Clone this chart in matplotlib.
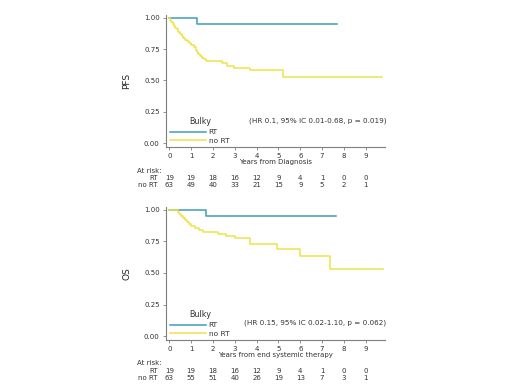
import matplotlib.pyplot as plt
import matplotlib.transforms as mtransforms

# PFS curves (time in years, survival after each step)
pfs_rt_t = [0, 1.28, 7.67]
pfs_rt_s = [1.0, 0.947, 0.947]
pfs_nort_t = [0, 0.05, 0.1, 0.16, 0.22, 0.28, 0.35, 0.42, 0.5, 0.58, 0.65, 0.72, 0.82,
              0.92, 1.0, 1.15, 1.22, 1.28, 1.32, 1.4, 1.5, 1.6, 1.7, 2.4, 2.65, 2.95,
              3.7, 5.2, 9.75]
pfs_nort_s = [1.0, 0.984, 0.968, 0.952, 0.936, 0.92, 0.905, 0.889, 0.873, 0.857, 0.841,
              0.825, 0.81, 0.794, 0.778, 0.762, 0.746, 0.73, 0.714, 0.698, 0.682, 0.667,
              0.651, 0.635, 0.619, 0.603, 0.584, 0.531, 0.531]

# OS curves
os_rt_t = [0, 1.66, 7.65]
os_rt_s = [1.0, 0.947, 0.947]
os_nort_t = [0, 0.38, 0.45, 0.55, 0.62, 0.72, 0.82, 0.9, 1.0, 1.2, 1.35, 1.55, 2.25,
             2.6, 3.0, 3.68, 4.93, 6.0, 7.35, 9.8]
os_nort_s = [1.0, 0.984, 0.968, 0.952, 0.937, 0.921, 0.905, 0.889, 0.873, 0.857, 0.841,
             0.825, 0.809, 0.793, 0.777, 0.727, 0.69, 0.637, 0.532, 0.532]

years = list(range(10))
pfs_risk_rt = [19, 19, 18, 16, 12, 9, 4, 1, 0, 0]
pfs_risk_nort = [63, 49, 40, 33, 21, 15, 9, 5, 2, 1]
os_risk_rt = [19, 19, 18, 16, 12, 9, 4, 1, 0, 0]
os_risk_nort = [63, 55, 51, 40, 26, 19, 13, 7, 3, 1]

c_rt = '#3e9db6'
c_nort = '#efe24a'
grey = '#7f7f7f'
txt = '#333333'
fs = 5

fig = plt.figure(figsize=(5.2, 3.9), dpi=100)
W, H = 520, 390


def panel(box, rt_t, rt_s, no_t, no_s, ylab, xlab, hr, hr_y, risk_rt, risk_no, rows_px):
    ax = fig.add_axes(box)
    ax.step(rt_t, rt_s, where='post', color=c_rt, lw=1.1, label='RT')
    ax.step(no_t, no_s, where='post', color=c_nort, lw=1.1, label='no RT')
    ax.set_xlim(-0.15, 9.88)
    ax.set_ylim(-0.028, 1.02)
    ax.set_xticks(years)
    ax.set_yticks([0, 0.25, 0.5, 0.75, 1.0])
    ax.set_yticklabels(['0.00', '0.25', '0.50', '0.75', '1.00'])
    for s in ['top', 'right']:
        ax.spines[s].set_visible(False)
    for s in ['left', 'bottom']:
        ax.spines[s].set_color(grey)
        ax.spines[s].set_linewidth(0.8)
    ax.tick_params(labelsize=fs, colors=txt, length=2.5, width=0.6, color=grey, pad=2)
    ax.set_xlabel(xlab, fontsize=fs, color=txt, labelpad=0)
    ax.set_ylabel(ylab, fontsize=6.5, color='#222222', labelpad=9)
    leg = ax.legend(loc='lower left', bbox_to_anchor=(0.0, -0.01), frameon=False,
                    title='Bulky', fontsize=5.3, title_fontsize=5.8, handlelength=4.8,
                    handletextpad=0.4, labelspacing=0.35, borderaxespad=0.2)
    for t in leg.get_texts():
        t.set_color(txt)
    leg.get_title().set_color(txt)
    ax.text(9.95, hr_y, hr, fontsize=5.2, color=txt, ha='right', va='center')

    tr = mtransforms.blended_transform_factory(ax.transData, fig.transFigure)
    y0, y1, y2 = [1 - p / H for p in rows_px]
    fig.text(137 / W, y0, 'At risk:', fontsize=fs, color=txt, ha='left', va='center')
    fig.text(158 / W, y1, 'RT', fontsize=fs, color=txt, ha='right', va='center')
    fig.text(158 / W, y2, 'no RT', fontsize=fs, color=txt, ha='right', va='center')
    for x, a, b in zip(years, risk_rt, risk_no):
        ax.text(x, y1, str(a), transform=tr, fontsize=fs, color=txt, ha='center', va='center')
        ax.text(x, y2, str(b), transform=tr, fontsize=fs, color=txt, ha='center', va='center')
    return ax


panel([166 / W, 1 - 147 / H, 219 / W, 132 / H], pfs_rt_t, pfs_rt_s, pfs_nort_t, pfs_nort_s,
      'PFS', 'Years from Diagnosis', '(HR 0.1, 95% IC 0.01-0.68, p = 0.019)', 0.18,
      pfs_risk_rt, pfs_risk_nort, [171, 178, 185])
panel([166 / W, 1 - 340 / H, 219 / W, 133 / H], os_rt_t, os_rt_s, os_nort_t, os_nort_s,
      'OS', 'Years from end systemic therapy', '(HR 0.15, 95% IC 0.02-1.10, p = 0.062)', 0.105,
      os_risk_rt, os_risk_nort, [363, 371, 378])

fig.savefig('out.png', dpi=100)
